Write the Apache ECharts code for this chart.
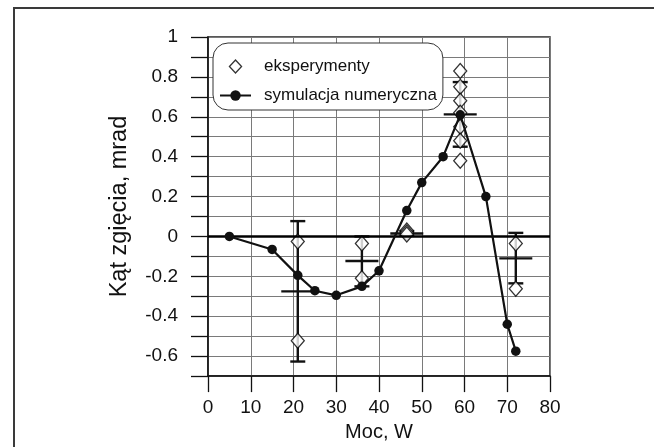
<!DOCTYPE html>
<html>
<head>
<meta charset="utf-8">
<script src="https://cdn.jsdelivr.net/npm/echarts@6/dist/echarts.min.js"></script>
<style>
  html, body { margin: 0; padding: 0; background: #fff; }
  #chart { width: 654px; height: 447px; }
</style>
</head>
<body>
<div id="chart"></div>
<script>
// Numerical simulation: bending angle vs. power
const simX = [5, 15, 21, 25, 30, 36, 40, 46.5, 50, 55, 59, 65, 70, 72];
const simY = [0, -0.065, -0.195, -0.272, -0.295, -0.25, -0.172, 0.13, 0.27, 0.40, 0.61, 0.20, -0.44, -0.575];

// Measured points (several runs per power level)
const expX = [21, 21, 36, 36, 46.5, 46.5, 46.5, 59, 59, 59, 59, 59, 59, 59, 72, 72];
const expY = [-0.025, -0.523, -0.035, -0.21, 0.03, 0.02, 0.01, 0.83, 0.75, 0.68, 0.62, 0.55, 0.48, 0.38, -0.035, -0.262];

// Mean value with lower / upper bound of the measurements
const errX    = [21, 36, 46.5, 59, 72];
const errMean = [-0.275, -0.123, 0.015, 0.612, -0.11];
const errLow  = [-0.627, -0.25, 0.003, 0.45, -0.235];
const errHigh = [0.077, 0.0, 0.027, 0.774, 0.018];

// Axis ticks
const xTicks = [0, 10, 20, 30, 40, 50, 60, 70, 80];
const yLabelValues = [-0.6, -0.4, -0.2, 0, 0.2, 0.4, 0.6, 0.8, 1];

const FONT = 'Liberation Sans, Arial, sans-serif';
const INK = '#111';
const DIAMOND = 'path://M7,0 L14,7.5 L7,15 L0,7.5 Z';

const chart = echarts.init(document.getElementById('chart'), null, { renderer: 'canvas' });

const option = {
  backgroundColor: '#ffffff',
  animation: false,
  textStyle: { fontFamily: FONT, color: INK },
  graphic: [{
    type: 'rect',
    silent: true,
    shape: { x: 14, y: 8, width: 700, height: 500 },
    style: { fill: 'none', stroke: '#3a3a3a', lineWidth: 2 }
  }],
  grid: {
    left: 208, top: 37, right: 104, bottom: 70,
    show: true, borderColor: '#222', borderWidth: 1.5, backgroundColor: 'transparent'
  },
  legend: {
    orient: 'vertical',
    left: 213, top: 43,
    padding: [15, 6, 6, 6],
    itemGap: 12,
    itemWidth: 31, itemHeight: 13,
    symbolKeepAspect: true,
    backgroundColor: '#fff',
    borderColor: '#333', borderWidth: 1, borderRadius: 15,
    textStyle: { fontFamily: FONT, fontSize: 17, color: INK, padding: [0, 0, 0, 8] },
    data: [
      { name: 'eksperymenty', icon: DIAMOND, itemStyle: { color: '#fff', borderColor: '#000', borderWidth: 1.3 } },
      { name: 'symulacja numeryczna' }
    ]
  },
  xAxis: {
    type: 'value',
    min: xTicks[0], max: xTicks[xTicks.length - 1], interval: 10,
    name: 'Moc, W',
    nameLocation: 'middle', nameGap: 44,
    nameTextStyle: { fontFamily: FONT, fontSize: 20, color: INK },
    axisLine: { show: true, onZero: false, lineStyle: { color: '#111', width: 1.5 } },
    axisTick: { show: true, inside: false, length: 16, lineStyle: { color: '#111', width: 1.3 } },
    axisLabel: { margin: 22, fontFamily: FONT, fontSize: 19, color: INK, showMinLabel: true, showMaxLabel: true, hideOverlap: false },
    splitLine: { show: true, lineStyle: { color: '#7a7a7a', width: 1 } }
  },
  yAxis: {
    type: 'value',
    min: -0.7, max: 1, interval: 0.1,
    name: 'Kąt zgięcia, mrad',
    nameLocation: 'middle', nameGap: 76,
    nameTextStyle: { fontFamily: FONT, fontSize: 23.5, color: INK },
    axisLine: { show: true, onZero: false, lineStyle: { color: '#111', width: 1.5 } },
    axisTick: { show: true, inside: false, length: 17, lineStyle: { color: '#111', width: 1.3 } },
    axisLabel: {
      margin: 30, fontFamily: FONT, fontSize: 19, color: INK,
      showMinLabel: true, showMaxLabel: true, hideOverlap: false,
      formatter: function (v) {
        const hit = yLabelValues.find(function (t) { return Math.abs(t - v) < 1e-6; });
        return hit === undefined ? '' : String(hit);
      }
    },
    splitLine: { show: true, lineStyle: { color: '#7a7a7a', width: 1 } }
  },
  series: [
    {
      name: 'bledy',
      type: 'custom',
      z: 3,
      silent: true,
      data: errX.map(function (x, i) { return [x, errMean[i], errLow[i], errHigh[i]]; }),
      encode: { x: 0, y: [1, 2, 3] },
      renderItem: function (params, api) {
        const x = api.value(0);
        const m = api.coord([x, api.value(1)]);
        const lo = api.coord([x, api.value(2)]);
        const hi = api.coord([x, api.value(3)]);
        const cap = 7.5, bar = 16.5;
        const st = { stroke: '#111', lineWidth: 2.4 };
        return {
          type: 'group',
          children: [
            { type: 'line', shape: { x1: lo[0], y1: lo[1], x2: hi[0], y2: hi[1] }, style: st },
            { type: 'line', shape: { x1: lo[0] - cap, y1: lo[1], x2: lo[0] + cap, y2: lo[1] }, style: st },
            { type: 'line', shape: { x1: hi[0] - cap, y1: hi[1], x2: hi[0] + cap, y2: hi[1] }, style: st },
            { type: 'line', shape: { x1: m[0] - bar, y1: m[1], x2: m[0] + bar, y2: m[1] }, style: st }
          ]
        };
      }
    },
    {
      name: 'eksperymenty',
      type: 'scatter',
      z: 4,
      symbol: 'diamond',
      symbolSize: [13, 15],
      itemStyle: { color: '#ffffff', borderColor: '#000', borderWidth: 1.3 },
      data: expX.map(function (x, i) { return [x, expY[i]]; })
    },
    {
      name: 'symulacja numeryczna',
      type: 'line',
      z: 5,
      symbol: 'circle',
      symbolSize: 9.5,
      showAllSymbol: true,
      lineStyle: { color: '#111', width: 2.2 },
      itemStyle: { color: '#111', borderColor: '#111', borderWidth: 0 },
      data: simX.map(function (x, i) { return [x, simY[i]]; }),
      markLine: {
        silent: true,
        symbol: ['none', 'none'],
        label: { show: false },
        lineStyle: { color: '#000', width: 2.5, type: 'solid' },
        data: [{ yAxis: 0 }]
      }
    }
  ]
};

chart.setOption(option);
</script>
</body>
</html>
